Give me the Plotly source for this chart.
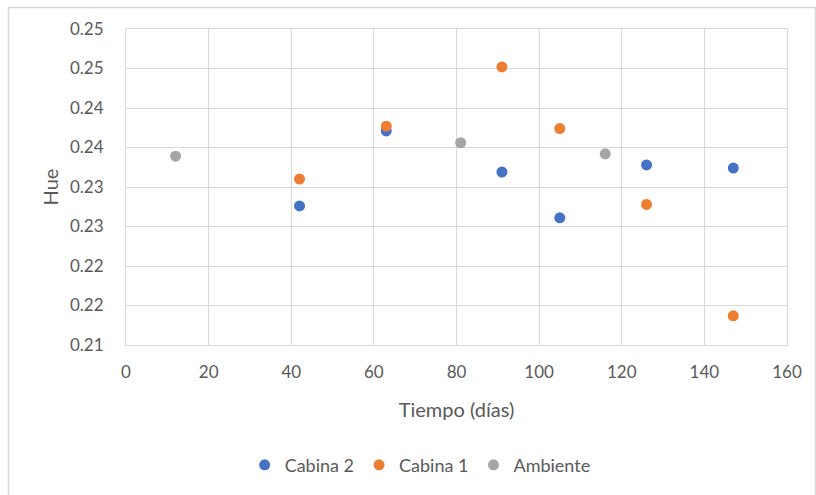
import plotly.graph_objects as go

# Data
cabina2_x = [42, 63, 91, 105, 126, 147]
cabina2_y = [0.2276, 0.2371, 0.2319, 0.2261, 0.2328, 0.2324]

cabina1_x = [42, 63, 91, 105, 126, 147]
cabina1_y = [0.2310, 0.2377, 0.2452, 0.2374, 0.2278, 0.2137]

ambiente_x = [12, 81, 116]
ambiente_y = [0.2339, 0.2356, 0.2342]

y_tickvals = [0.21, 0.215, 0.22, 0.225, 0.23, 0.235, 0.24, 0.245, 0.25]
y_ticktext = ["0.21", "0.22", "0.22", "0.23", "0.23", "0.24", "0.24", "0.25", "0.25"]
x_tickvals = [0, 20, 40, 60, 80, 100, 120, 140, 160]

FONT = "Lato"
TXT = "#595959"
GRID = "#D9D9D9"

fig = go.Figure()
fig.add_trace(go.Scatter(x=cabina2_x, y=cabina2_y, mode="markers", name="Cabina 2",
                         marker=dict(color="#4472C4", size=11)))
fig.add_trace(go.Scatter(x=cabina1_x, y=cabina1_y, mode="markers", name="Cabina 1",
                         marker=dict(color="#ED7D31", size=11)))
fig.add_trace(go.Scatter(x=ambiente_x, y=ambiente_y, mode="markers", name="Ambiente",
                         marker=dict(color="#A5A5A5", size=11)))

fig.update_layout(
    width=816, height=495,
    margin=dict(l=126, r=29, t=29, b=150),
    paper_bgcolor="white", plot_bgcolor="white",
    font=dict(family=FONT, size=17, color=TXT),
    showlegend=True,
    legend=dict(orientation="h", x=0.445, xanchor="center", y=-0.38, yanchor="middle",
                font=dict(family=FONT, size=18, color=TXT),
                itemwidth=30, tracegroupgap=0),
    xaxis=dict(range=[0, 160], tickvals=x_tickvals, showgrid=True, gridcolor=GRID, gridwidth=1,
               showline=True, linecolor=GRID, linewidth=1, mirror=True, zeroline=False,
               ticks="", ticklabelstandoff=12,
               title=dict(text="Tiempo (días)", font=dict(family=FONT, size=20, color=TXT), standoff=21)),
    yaxis=dict(range=[0.21, 0.25], tickvals=y_tickvals, ticktext=y_ticktext,
               showgrid=True, gridcolor=GRID, gridwidth=1,
               showline=True, linecolor=GRID, linewidth=1, mirror=True, zeroline=False,
               ticks="", ticklabelstandoff=18,
               title=dict(text="Hue", font=dict(family=FONT, size=20, color=TXT), standoff=6)),
    shapes=[dict(type="rect", xref="paper", yref="paper",
                 x0=(8.5 - 126) / 661, x1=(815.5 - 126) / 661,
                 y0=(345 - 500) / 316, y1=(345 - 7.5) / 316,
                 line=dict(color=GRID, width=1.5), fillcolor="rgba(0,0,0,0)", layer="below")],
)

fig.write_html("out.html")
